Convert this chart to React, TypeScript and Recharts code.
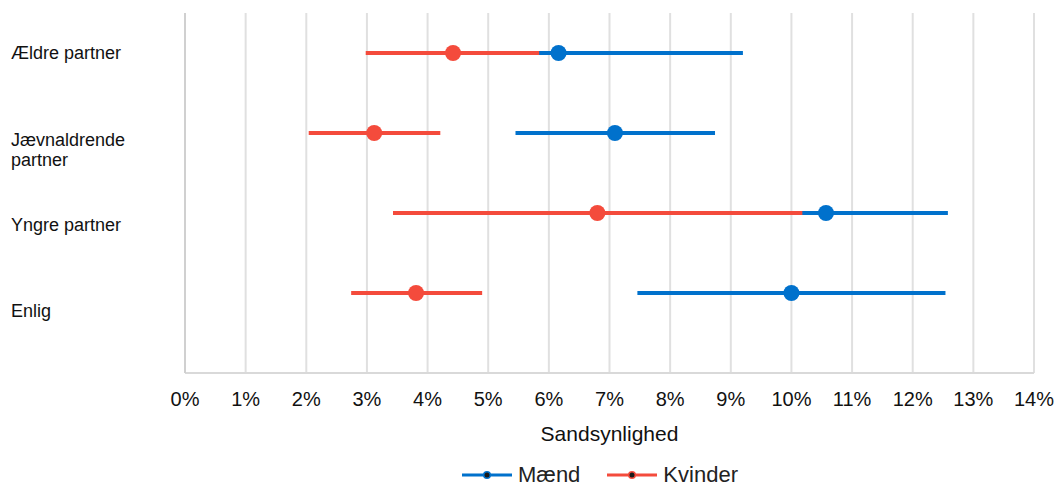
import { ScatterChart, Scatter, XAxis, YAxis, CartesianGrid, ErrorBar } from 'recharts';

const CATEGORIES = ['Ældre partner', 'Jævnaldrende partner', 'Yngre partner', 'Enlig'];
const POSITIONS = [4, 3, 2, 1];

const MAEND_EST = [6.16, 7.09, 10.57, 10.0];
const MAEND_LOW = [3.2, 5.45, 8.53, 7.46];
const MAEND_HIGH = [9.2, 8.74, 12.58, 12.54];

const KVINDER_EST = [4.42, 3.12, 6.8, 3.81];
const KVINDER_LOW = [2.98, 2.04, 3.43, 2.74];
const KVINDER_HIGH = [5.84, 4.21, 10.18, 4.9];

const X_TICKS = [0, 1, 2, 3, 4, 5, 6, 7, 8, 9, 10, 11, 12, 13, 14];

const BLUE = '#0071CC';
const RED = '#F44B3C';
const FONT = 'Liberation Sans, Arial, sans-serif';

// label nudges relative to the dot row (styling only)
const LABEL_LINES: Record<string, string[]> = {
  'Ældre partner': ['Ældre partner'],
  'Jævnaldrende partner': ['Jævnaldrende', 'partner'],
  'Yngre partner': ['Yngre partner'],
  Enlig: ['Enlig'],
};
const LABEL_DY = [0, 7, 12, 18];

const build = (est: number[], low: number[], high: number[]) =>
  CATEGORIES.map((name, i) => ({
    name,
    x: est[i],
    y: POSITIONS[i],
    err: [est[i] - low[i], high[i] - est[i]],
  }));

const maendData = build(MAEND_EST, MAEND_LOW, MAEND_HIGH);
const kvinderData = build(KVINDER_EST, KVINDER_LOW, KVINDER_HIGH);

const YTick = (props: any) => {
  const { y, payload } = props;
  const idx = POSITIONS.indexOf(payload.value);
  if (idx < 0) return null;
  const lines = LABEL_LINES[CATEGORIES[idx]];
  return (
    <text x={11} y={y + LABEL_DY[idx]} fontSize={18} fontFamily={FONT} fill="#111" dominantBaseline="central">
      {lines.map((l, k) => (
        <tspan key={k} x={11} dy={k === 0 ? 0 : 20}>
          {l}
        </tspan>
      ))}
    </text>
  );
};

const Dot = (color: string) => (props: any) => {
  const { cx, cy } = props;
  return <circle cx={cx} cy={cy} r={8} fill={color} />;
};

const LegendBox = () => {
  const items = [
    { label: 'Mænd', color: BLUE },
    { label: 'Kvinder', color: RED },
  ];
  return (
    <div
      style={{
        position: 'absolute',
        top: 462,
        left: 462,
        display: 'flex',
        fontFamily: FONT,
        fontSize: 22,
        color: '#222',
      }}
    >
      {items.map((it) => (
        <div key={it.label} style={{ display: 'flex', alignItems: 'center', marginRight: 27 }}>
          <svg width={50} height={12} style={{ marginRight: 6 }}>
            <line x1={0} y1={6} x2={50} y2={6} stroke={it.color} strokeWidth={3} />
            <circle cx={25} cy={6} r={4} fill={it.color} />
            <circle cx={25} cy={6} r={2.5} fill="#1a1a1a" />
          </svg>
          <span>{it.label}</span>
        </div>
      ))}
    </div>
  );
};

export default function App() {
  document.body.style.margin = '0';
  return (
    <div style={{ position: 'relative', width: 1059, height: 485, background: '#fff' }}>
      <ScatterChart width={1059} height={485} margin={{ top: 13, right: 25, bottom: 0, left: 10 }}>
        <CartesianGrid vertical horizontal={false} stroke="#e0e0e0" strokeWidth={2} />
        <XAxis
          type="number"
          dataKey="x"
          domain={[0, 14]}
          ticks={X_TICKS}
          allowDataOverflow
          tickFormatter={(v) => `${v}%`}
          tickLine={false}
          axisLine={{ stroke: '#d9d9d9', strokeWidth: 2 }}
          tick={{ fontSize: 20, fontFamily: FONT, fill: '#111' }}
          tickMargin={13}
          label={{ value: 'Sandsynlighed', position: 'insideBottom', offset: 44, fontSize: 21, fontFamily: FONT, fill: '#111' }}
          height={112}
        />
        <YAxis
          type="number"
          dataKey="y"
          domain={[0, 4.5]}
          ticks={POSITIONS}
          allowDataOverflow
          axisLine={{ stroke: '#d0d0d0', strokeWidth: 2 }}
          tickLine={false}
          tick={<YTick />}
          width={175}
        />
        <Scatter name="Mænd" data={maendData} fill={BLUE} shape={Dot(BLUE)} isAnimationActive={false}>
          <ErrorBar dataKey="err" direction="x" width={0} stroke={BLUE} strokeWidth={4} />
        </Scatter>
        <Scatter name="Kvinder" data={kvinderData} fill={RED} shape={Dot(RED)} isAnimationActive={false}>
          <ErrorBar dataKey="err" direction="x" width={0} stroke={RED} strokeWidth={4} />
        </Scatter>
      </ScatterChart>
      <LegendBox />
    </div>
  );
}
